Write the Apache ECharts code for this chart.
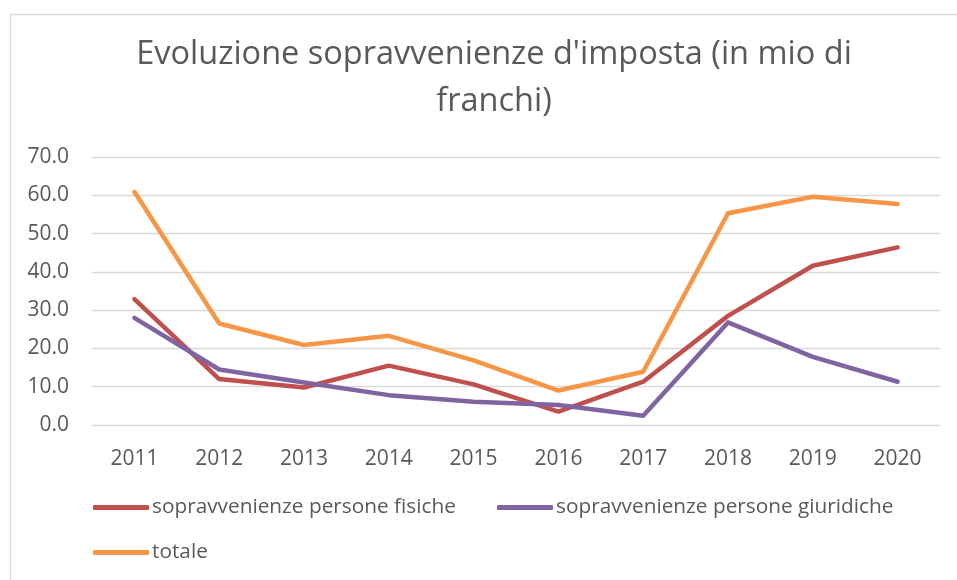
<!DOCTYPE html>
<html>
<head>
<meta charset="utf-8">
<script src="https://cdn.jsdelivr.net/npm/echarts@6/dist/echarts.min.js"></script>
<style>
  html, body { margin: 0; padding: 0; background: #fff; }
  #chart { width: 957px; height: 580px; }
</style>
</head>
<body>
<div id="chart"></div>
<script>
var chart = echarts.init(document.getElementById('chart'));

var years = ['2011', '2012', '2013', '2014', '2015', '2016', '2017', '2018', '2019', '2020'];
var personeFisiche = [32.9, 12.0, 9.8, 15.5, 10.6, 3.5, 11.3, 28.5, 41.6, 46.4];
var personeGiuridiche = [28.0, 14.5, 11.1, 7.8, 6.1, 5.2, 2.4, 26.8, 17.8, 11.3];
var totale = [60.9, 26.5, 20.9, 23.3, 16.9, 9.0, 13.9, 55.3, 59.6, 57.7];

var names = ['sopravvenienze persone fisiche', 'sopravvenienze persone giuridiche', 'totale'];
var colors = ['#C0504D', '#8064A2', '#F79646'];
var font = 'Open Sans';
var textColor = '#595959';

function legendAt(name, left, top) {
    return {
        data: [name],
        left: left,
        top: top,
        icon: 'roundRect',
        itemWidth: 56,
        itemHeight: 5,
        padding: 0,
        textStyle: { fontFamily: font, fontSize: 20.8, color: textColor, padding: [0, 0, 0, -2] }
    };
}

var option = {
    animation: false,
    color: colors,
    title: {
        text: "Evoluzione sopravvenienze d'imposta (in mio di\nfranchi)",
        left: 489,
        top: 26,
        textAlign: 'center',
        textStyle: {
            fontFamily: font,
            fontSize: 32.5,
            fontWeight: 'normal',
            color: textColor,
            lineHeight: 47
        }
    },
    graphic: [{
        type: 'rect',
        shape: { x: 10.5, y: 14.5, width: 970, height: 600 },
        style: { fill: 'none', stroke: '#d9d9d9', lineWidth: 1.3 },
        silent: true
    }],
    legend: [
        legendAt(names[0], 93, 497),
        legendAt(names[1], 497, 497),
        legendAt(names[2], 93, 542)
    ],
    grid: { left: 92, right: 17, top: 157, bottom: 155 },
    xAxis: {
        type: 'category',
        data: years,
        boundaryGap: true,
        axisLine: { show: false },
        axisTick: { show: false },
        axisLabel: { fontFamily: font, fontSize: 21, color: textColor, margin: 24 }
    },
    yAxis: {
        type: 'value',
        min: 0,
        max: 70,
        interval: 10,
        axisLine: { show: false },
        axisTick: { show: false },
        splitLine: { lineStyle: { color: '#d9d9d9', width: 1.3 } },
        axisLabel: {
            fontFamily: font, fontSize: 21, color: textColor, margin: 23,
            formatter: function (v) { return v.toFixed(1); }
        }
    },
    series: [
        { name: names[0], type: 'line', data: personeFisiche },
        { name: names[1], type: 'line', data: personeGiuridiche },
        { name: names[2], type: 'line', data: totale }
    ].map(function (s) {
        s.symbol = 'none';
        s.lineStyle = { width: 4.5, cap: 'round', join: 'round' };
        return s;
    })
};

chart.setOption(option);
window.onresize = chart.resize;
</script>
</body>
</html>
